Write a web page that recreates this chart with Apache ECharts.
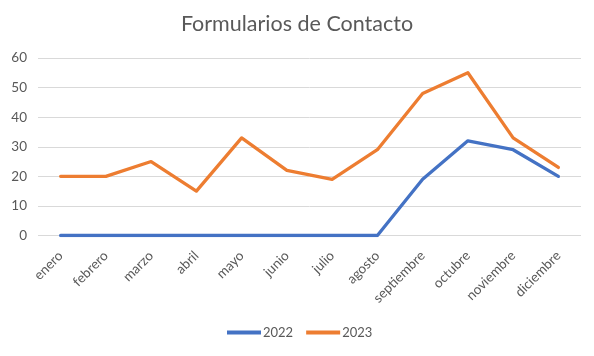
<!DOCTYPE html>
<html><head><meta charset="utf-8">
<script src="https://cdn.jsdelivr.net/npm/echarts@6/dist/echarts.min.js"></script>
<style>html,body{margin:0;padding:0;background:#fff}#c{width:594px;height:356px}</style>
</head><body><div id="c"></div>
<script>
const categories = ['enero','febrero','marzo','abril','mayo','junio','julio','agosto','septiembre','octubre','noviembre','diciembre'];
const values2022 = [0,0,0,0,0,0,0,0,19,32,29,20];
const values2023 = [20,20,25,15,33,22,19,29,48,55,33,23];
const yTicks = {min:0, max:60, interval:10};
const FONT = 'Lato';
const chart = echarts.init(document.getElementById('c'));
chart.setOption({
  animation:false,
  title:{text:'Formularios de Contacto', left:'center', top:8,
    textStyle:{fontFamily:FONT, fontSize:21.5, fontWeight:'normal', color:'#595959'}},
  legend:{top:321, left:222, icon:'rect', itemWidth:34, itemHeight:4, itemGap:13,
    textStyle:{fontFamily:FONT, fontSize:13, color:'#595959', padding:[0,0,0,-3]}},
  grid:{left:38, right:13, top:58, bottom:120.5, containLabel:false},
  xAxis:{type:'category', data:categories, boundaryGap:true,
    axisLine:{show:false}, axisTick:{show:false},
    axisLabel:{rotate:45, interval:0, margin:18, color:'#595959', fontFamily:FONT, fontSize:13.5}},
  yAxis:{type:'value', min:yTicks.min, max:yTicks.max, interval:yTicks.interval,
    axisLine:{show:false}, axisTick:{show:false},
    splitLine:{lineStyle:{color:'#d9d9d9', width:1}},
    axisLabel:{margin:11, color:'#595959', fontFamily:FONT, fontSize:13.5}},
  series:[
    {name:'2022', type:'line', data:values2022, symbol:'none', color:'#4472C4',
      lineStyle:{width:3.3, color:'#4472C4', cap:'round', join:'round'}},
    {name:'2023', type:'line', data:values2023, symbol:'none', color:'#ED7D31',
      lineStyle:{width:3.3, color:'#ED7D31', cap:'round', join:'round'}}
  ]
});
</script></body></html>
